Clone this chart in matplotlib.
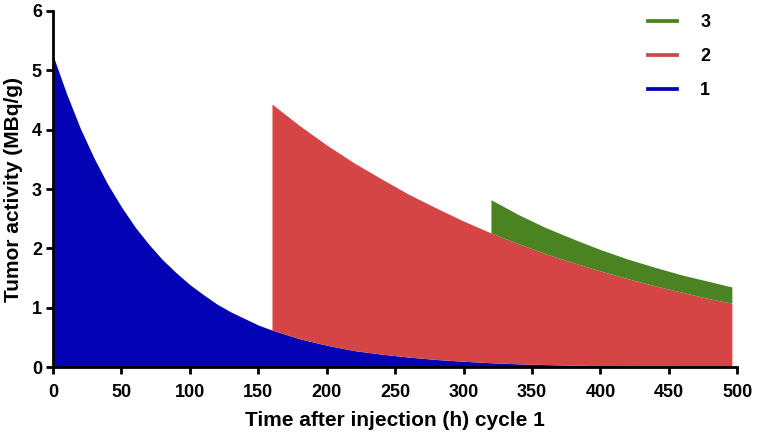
import numpy as np
import matplotlib

matplotlib.use('agg')
import matplotlib.pyplot as plt
from matplotlib.lines import Line2D

plt.rcParams['font.family'] = ['Liberation Sans', 'DejaVu Sans']
plt.rcParams['font.weight'] = 'bold'

# time points (h)
t = [0, 10, 20, 30, 40, 50, 60, 70, 80, 90, 100, 110, 120, 130, 140, 150, 160,
     180, 200, 220, 240, 260, 280, 300, 320,
     340, 360, 380, 400, 420, 440, 460, 480, 496]

# cycle 1 activity
act1 = [5.25, 4.60, 4.02, 3.52, 3.08, 2.70, 2.36, 2.07, 1.81, 1.59, 1.39, 1.22, 1.06, 0.93, 0.82, 0.71, 0.625,
        0.48, 0.37, 0.28, 0.22, 0.17, 0.13, 0.10, 0.075,
        0.057, 0.044, 0.034, 0.026, 0.020, 0.015, 0.012, 0.009, 0.007]

# cumulative top after cycle 2 (from 160 h)
t2 = [160, 180, 200, 220, 240, 260, 280, 300, 320, 340, 360, 380, 400, 420, 440, 460, 480, 496]
top2 = [4.43, 4.07, 3.74, 3.44, 3.17, 2.91, 2.68, 2.46, 2.26, 2.08, 1.91, 1.76, 1.62, 1.49, 1.37, 1.26, 1.15, 1.08]

# cumulative top after cycle 3 (from 320 h)
t3 = [320, 340, 360, 380, 400, 420, 440, 460, 480, 496]
top3 = [2.82, 2.57, 2.35, 2.16, 1.98, 1.82, 1.68, 1.55, 1.44, 1.35]

c1 = '#0303b5'
c2 = '#d64545'
c3 = '#4b8222'

t = np.array(t)
act1 = np.array(act1)
base2 = act1[t >= 160]
top2_at3 = np.array(top2)[np.isin(t2, t3)]

fig = plt.figure(figsize=(7.57, 4.32), dpi=100)
ax = fig.add_axes([0.070, 0.150, 0.904, 0.825])

ax.fill_between(t, 0, act1, color=c1, lw=0)
ax.fill_between(t2, base2, top2, color=c2, lw=0)
ax.fill_between(t3, top2_at3, top3, color=c3, lw=0)

ax.set_xlim(0, 500)
ax.set_ylim(0, 6)
ax.set_xticks(range(0, 501, 50))
ax.set_yticks(range(0, 7))
for s in ['top', 'right']:
    ax.spines[s].set_visible(False)
for s in ['left', 'bottom']:
    ax.spines[s].set_linewidth(2)
ax.tick_params(width=2, length=5, labelsize=13)
ax.tick_params(axis='x', pad=7)
ax.tick_params(axis='y', pad=3)

ax.set_xlabel('Time after injection (h) cycle 1', fontsize=15, fontweight='bold', labelpad=7)
ax.set_ylabel('Tumor activity (MBq/g)', fontsize=15, fontweight='bold', labelpad=6)

handles = [Line2D([], [], color=c3, lw=2.7),
           Line2D([], [], color=c2, lw=2.7),
           Line2D([], [], color=c1, lw=2.7)]
ax.legend(handles, ['3', '2', '1'], frameon=False, fontsize=13,
          loc='upper left', bbox_to_anchor=(648 / 757, 1 - 14 / 432),
          bbox_transform=fig.transFigure, borderpad=0, borderaxespad=0,
          handlelength=1.6, handletextpad=1.3, labelspacing=0.95)

fig.savefig('out.png', dpi=100)
